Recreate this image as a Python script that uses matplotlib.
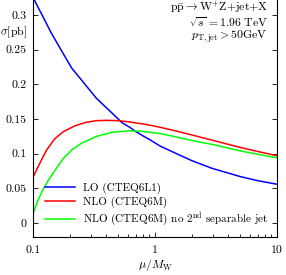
import matplotlib
matplotlib.use("Agg")
import matplotlib.pyplot as plt
from matplotlib.ticker import FixedLocator, LogLocator, NullFormatter

plt.rcParams['font.family'] = 'serif'
plt.rcParams['font.serif'] = ['cmr10']
plt.rcParams['mathtext.fontset'] = 'cm'
plt.rcParams['axes.formatter.use_mathtext'] = True
plt.rcParams['font.size'] = 8.5

# values
mu_lo = [0.1, 0.12, 0.14, 0.169, 0.208, 0.25, 0.284, 0.33, 0.389, 0.46, 0.533, 0.62, 0.70,
         0.8, 0.91, 1.1, 1.5, 2.0, 2.92, 4.0, 5.0, 7.0, 10.0]
sigma_lo = [0.325, 0.298, 0.275, 0.250, 0.223, 0.206, 0.194, 0.180, 0.168, 0.156, 0.145, 0.138, 0.1315,
            0.1255, 0.120, 0.111, 0.100, 0.090, 0.079, 0.072, 0.067, 0.061, 0.056]

mu_nlo = [0.1, 0.115, 0.129, 0.15, 0.177, 0.22, 0.27, 0.33, 0.40, 0.5, 0.6, 0.75,
          0.91, 1.1, 1.5, 2.0, 3.0, 5.0, 7.0, 10.0]
sigma_nlo = [0.066, 0.088, 0.105, 0.121, 0.1316, 0.140, 0.145, 0.1475, 0.148, 0.1475, 0.146, 0.1435,
             0.141, 0.138, 0.1325, 0.127, 0.119, 0.109, 0.103, 0.097]

mu_nlo2 = [0.1, 0.11, 0.121, 0.135, 0.15, 0.177, 0.21, 0.25, 0.333, 0.45, 0.62, 0.8,
           0.91, 1.1, 1.5, 2.0, 3.0, 5.0, 7.0, 10.0]
sigma_nlo2 = [0.014, 0.033, 0.0486, 0.063, 0.075, 0.093, 0.106, 0.115, 0.125, 0.131, 0.133, 0.132,
              0.1307, 0.129, 0.124, 0.119, 0.113, 0.104, 0.099, 0.094]

y_ticks = [0, 0.05, 0.1, 0.15, 0.2, 0.25, 0.3]
y_labels = ['0', '0.05', '0.1', '0.15', '0.2', '0.25', '0.3']
x_ticks = [0.1, 1, 10]
x_labels = ['0.1', '1', '10']

fig = plt.figure(figsize=(2.86, 2.75), dpi=100)
ax = fig.add_axes([33 / 286, 38 / 275, 244 / 286, 250 / 275])

ax.plot(mu_lo, sigma_lo, color='#0000ff', lw=1.1, label='LO (CTEQ6L1)')
ax.plot(mu_nlo, sigma_nlo, color='#ff0000', lw=1.1, label='NLO (CTEQ6M)')
ax.plot(mu_nlo2, sigma_nlo2, color='#00ff00', lw=1.1,
        label=r'NLO (CTEQ6M) no 2$^{\rm nd}$ separable jet')

ax.set_xscale('log')
ax.set_xlim(0.1, 10)
ax.set_ylim(-0.02, 0.34)
ax.xaxis.set_major_locator(FixedLocator(x_ticks))
ax.set_xticklabels(x_labels)
ax.xaxis.set_minor_locator(LogLocator(base=10, subs=range(2, 10)))
ax.xaxis.set_minor_formatter(NullFormatter())
ax.set_yticks(y_ticks)
ax.set_yticklabels(y_labels)
ax.tick_params(which='both', direction='in', top=False, right=True, width=0.6)
ax.tick_params(which='major', length=3.5)
ax.tick_params(which='minor', length=2)
ax.tick_params(axis='x', pad=6)
ax.tick_params(axis='y', pad=4.5)
for side in ['left', 'right', 'bottom']:
    ax.spines[side].set_linewidth(0.8)
ax.spines['top'].set_visible(False)

ax.text(-0.078, 0.275, r'$\sigma$[pb]', transform=ax.get_yaxis_transform(),
        ha='center', va='center')
ax.set_xlabel(r'$\mu/M_{\rm W}$', labelpad=1.5)

info = [r'$\mathrm{p\bar{p}}\rightarrow\mathrm{W^{+}Z{+}jet{+}X}$',
        r'$\sqrt{s}\,=1.96\ \mathrm{TeV}$',
        r'$p_{\mathrm{T,jet}}>50\mathrm{GeV}$']
for txt, yv in zip(info, [0.310, 0.290, 0.269]):
    ax.text(0.963, yv, txt, transform=ax.get_yaxis_transform(), ha='right', va='center')

ax.legend(loc='lower left', bbox_to_anchor=(0.049, 0.036), frameon=False,
          borderaxespad=0, borderpad=0, handlelength=2.7, handletextpad=0.75,
          labelspacing=0.25, fontsize=8)

fig.savefig('out.png', dpi=100)
